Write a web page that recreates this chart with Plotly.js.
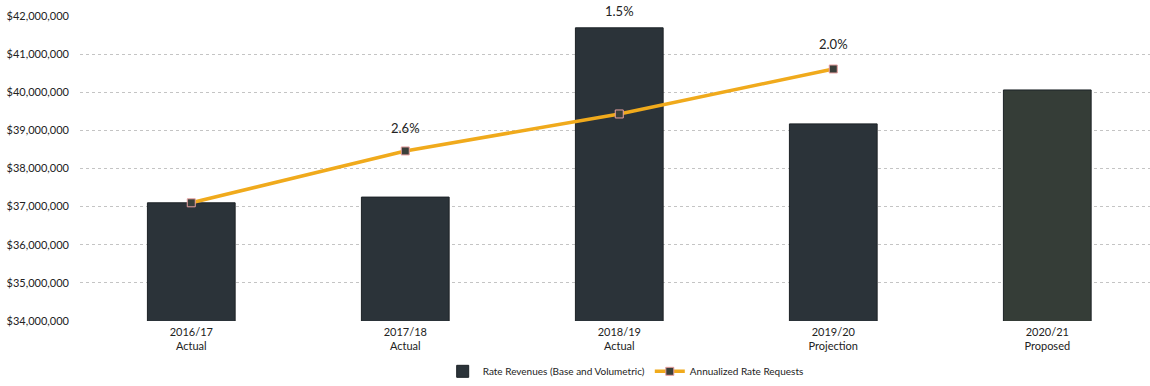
<!DOCTYPE html>
<html><head><meta charset="utf-8">
<script src="https://cdn.plot.ly/plotly-3.0.1.min.js"></script>
<style>html,body{margin:0;padding:0;background:#fff;}#chart{width:1150px;height:386px;}</style>
</head><body><div id="chart"></div>
<script>
const categories = ["2016/17<br>Actual", "2017/18<br>Actual", "2018/19<br>Actual", "2019/20<br>Projection", "2020/21<br>Proposed"];
const revenues = [37100000, 37250000, 41690000, 39170000, 40060000];
const requestCats = ["2016/17<br>Actual", "2017/18<br>Actual", "2018/19<br>Actual", "2019/20<br>Projection"];
const requests = [37100000, 38460000, 39430000, 40610000];
const pctLabels = ["", "2.6%", "1.5%", "2.0%"];
const pctLabelY = [null, 38800000, 41880000, 41000000];
const yTicks = [34000000, 35000000, 36000000, 37000000, 38000000, 39000000, 40000000, 41000000, 42000000];
const yTickText = yTicks.map(v => "$" + v.toLocaleString("en-US"));

const font = "Lato, 'Open Sans', sans-serif";
const barColors = ["#2b3339", "#2b3339", "#2b3339", "#2b3339", "#353d37"];

const traces = [
  {type: "bar", x: categories, y: revenues, name: "Rate Revenues (Base and Volumetric)",
   marker: {color: barColors, line: {color: "#1c2226", width: 1}}},
  {type: "scatter", mode: "lines+markers", x: requestCats, y: requests, name: "Annualized Rate Requests",
   line: {color: "#f0aa1c", width: 3.5},
   marker: {symbol: "square", size: 8, color: "#3a3f3a", line: {color: "#e8a0a0", width: 1}}}
];

const annotations = [];
requestCats.forEach((c, i) => {
  if (pctLabels[i]) annotations.push({x: c, y: pctLabelY[i], text: pctLabels[i], showarrow: false,
    font: {family: font, size: 13, color: "#222"}, yanchor: "bottom"});
});

const layout = {
  width: 1150, height: 386,
  margin: {l: 80, r: 0, t: 16, b: 65},
  paper_bgcolor: "#fff", plot_bgcolor: "#fff",
  bargap: 0.59,
  showlegend: true,
  legend: {orientation: "h", x: 0.51, xanchor: "center", y: -0.165, yanchor: "middle",
    font: {family: font, size: 10, color: "#222"}, traceorder: "normal"},
  xaxis: {type: "category", range: [-0.52, 4.48], showgrid: false, zeroline: false, showline: false,
    ticks: "", ticklabelstandoff: 3, tickfont: {family: font, size: 11, color: "#222"}},
  yaxis: {range: [34000000, 42000000], tickvals: yTicks, ticktext: yTickText,
    showgrid: true, gridcolor: "#c4c4c4", griddash: "dot", gridwidth: 1, zeroline: false, showline: false,
    ticks: "", ticklabelstandoff: 10, tickfont: {family: font, size: 11, color: "#222"}},
  annotations: annotations
};
Plotly.newPlot("chart", traces, layout, {displayModeBar: false, staticPlot: true});
</script></body></html>
